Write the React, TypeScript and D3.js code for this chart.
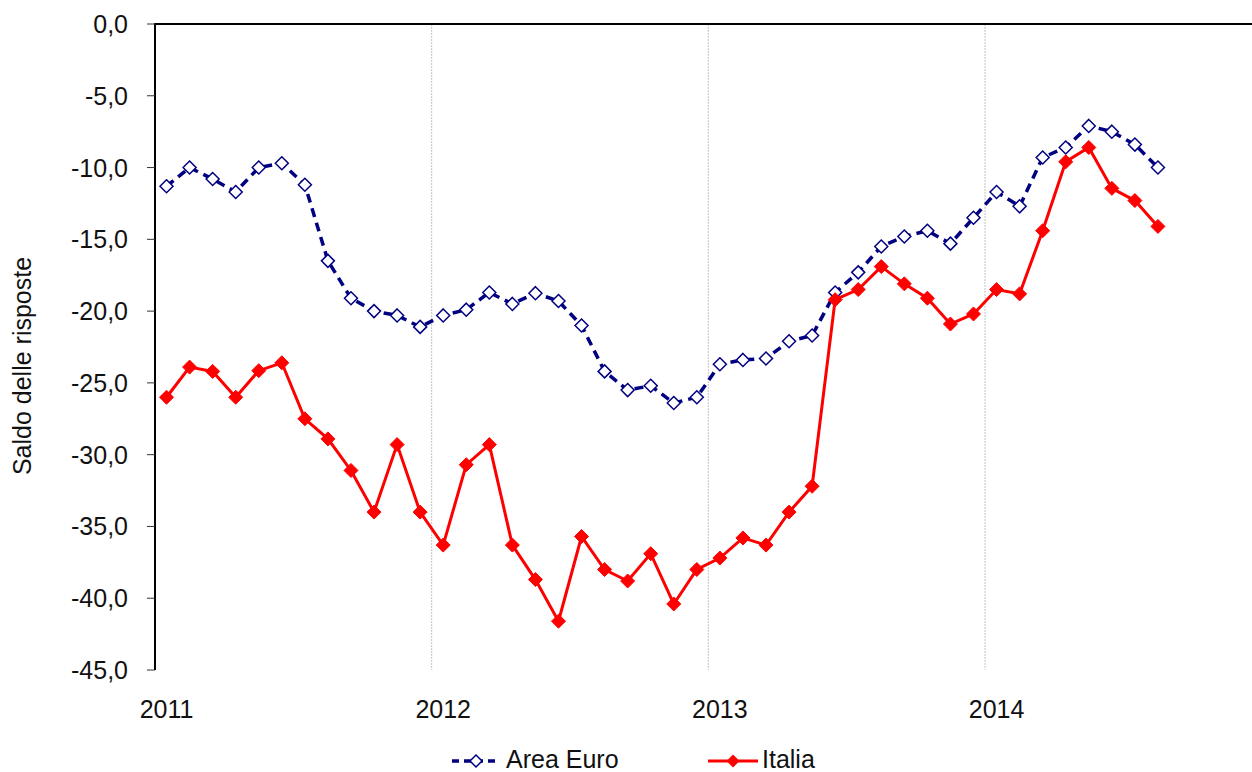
import React from 'react';
import { scaleLinear, line, range } from 'd3';

// monthly values, Jan 2011 - Aug 2014
const areaEuro = [
  -11.3, -10.0, -10.8, -11.7, -10.0, -9.7, -11.2, -16.5, -19.1, -20.0, -20.3, -21.1,
  -20.3, -19.9, -18.7, -19.5, -18.75, -19.3, -21.0, -24.2, -25.5, -25.2, -26.4, -26.0,
  -23.7, -23.4, -23.3, -22.1, -21.7, -18.7, -17.3, -15.5, -14.8, -14.4, -15.3, -13.5,
  -11.7, -12.7, -9.3, -8.6, -7.1, -7.5, -8.4, -10.0,
];
const italia = [
  -26.0, -23.9, -24.2, -26.0, -24.15, -23.6, -27.5, -28.9, -31.1, -34.0, -29.3, -34.0,
  -36.3, -30.7, -29.3, -36.3, -38.7, -41.6, -35.7, -38.0, -38.8, -36.9, -40.4, -38.0,
  -37.2, -35.8, -36.3, -34.0, -32.2, -19.2, -18.5, -16.9, -18.1, -19.1, -20.9, -20.2,
  -18.5, -18.8, -14.4, -9.6, -8.6, -11.45, -12.3, -14.1,
];
const years = ['2011', '2012', '2013', '2014'];
const yTicks = [0, -5, -10, -15, -20, -25, -30, -35, -40, -45];

const W = 1252;
const H = 772;
const left = 155;
const top = 24;
const bottom = 670;
const font = '"Liberation Sans", Arial, sans-serif';
const fs = 25;

const x = scaleLinear().domain([0, 48]).range([left, 1261.7]);
const y = scaleLinear().domain([-45, 0]).range([bottom, top]);

const fmt = (v: number) => v.toFixed(1).replace('.', ',');

const diamond = (cx: number, cy: number, r: number) =>
  `M${cx},${cy - r}L${cx + r},${cy}L${cx},${cy + r}L${cx - r},${cy}Z`;

export default function App() {
  const lineGen = line<number>()
    .x((_, i) => x(i + 0.5))
    .y((d) => y(d));

  return (
    <svg
      width={W}
      height={H}
      style={{ position: 'absolute', left: 0, top: 0, background: '#fff' }}
      fontFamily={font}
    >
      {/* year gridlines */}
      {range(1, 4).map((k) => (
        <line
          key={k}
          x1={x(k * 12)}
          x2={x(k * 12)}
          y1={top}
          y2={bottom}
          stroke="#c4c4c4"
          strokeWidth={1}
          strokeDasharray="2,1"
        />
      ))}

      {/* y axis */}
      <line x1={left} x2={left} y1={top} y2={bottom} stroke="#000" strokeWidth={2} />
      <line x1={left - 1} x2={W} y1={top} y2={top} stroke="#000" strokeWidth={2} />
      {yTicks.map((t) => (
        <g key={t}>
          <line x1={left - 8} x2={left} y1={y(t)} y2={y(t)} stroke="#333" strokeWidth={1} />
          <text x={left - 27} y={y(t)} dy="0.36em" textAnchor="end" fontSize={fs} fill="#111">
            {fmt(t)}
          </text>
        </g>
      ))}
      <text
        transform={`translate(31,366) rotate(-90)`}
        textAnchor="middle"
        fontSize={fs}
        fill="#111"
      >
        Saldo delle risposte
      </text>

      {/* x labels */}
      {years.map((yr, k) => (
        <text key={yr} x={x(k * 12 + 0.5)} y={718} textAnchor="middle" fontSize={fs} fill="#111">
          {yr}
        </text>
      ))}

      {/* Area Euro */}
      <path
        d={lineGen(areaEuro) ?? ''}
        fill="none"
        stroke="#000080"
        strokeWidth={3.5}
        strokeDasharray="9,6"
      />
      {areaEuro.map((v, i) => (
        <path key={i} d={diamond(x(i + 0.5), y(v), 6.5)} fill="#fff" stroke="#000080" strokeWidth={1.5} />
      ))}

      {/* Italia */}
      <path d={lineGen(italia) ?? ''} fill="none" stroke="#ff0000" strokeWidth={3} />
      {italia.map((v, i) => (
        <path key={i} d={diamond(x(i + 0.5), y(v), 7)} fill="#ff0000" stroke="#ff0000" strokeWidth={1} />
      ))}

      {/* legend */}
      <g>
        <line x1={452} x2={500} y1={761} y2={761} stroke="#000080" strokeWidth={3.5} strokeDasharray="7,5" />
        <path d={diamond(476, 761, 6)} fill="#fff" stroke="#000080" strokeWidth={1.5} />
        <text x={506} y={768} fontSize={fs} fill="#111">
          Area Euro
        </text>
        <line x1={708} x2={758} y1={761} y2={761} stroke="#ff0000" strokeWidth={3} />
        <path d={diamond(733, 761, 6.5)} fill="#ff0000" />
        <text x={762} y={768} fontSize={fs} fill="#111">
          Italia
        </text>
      </g>
    </svg>
  );
}
